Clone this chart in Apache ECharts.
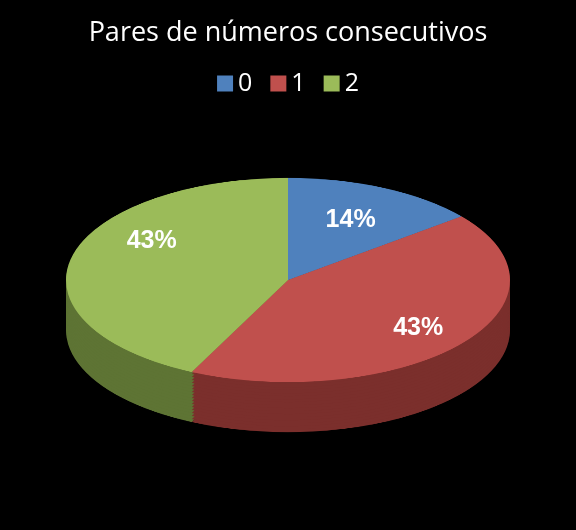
<!DOCTYPE html>
<html>
<head>
<meta charset="utf-8">
<script src="https://cdn.jsdelivr.net/npm/echarts@6/dist/echarts.min.js"></script>
<style>
	body { margin: 0; background: #000; }
	#wrap { position: relative; width: 576px; height: 530px; overflow: hidden; background: #000; }
	#pie { position: absolute; left: 0; top: 0; width: 576px; height: 1152px; transform: scaleY(0.46); transform-origin: 0 0; }
	#main { position: absolute; left: 0; top: 0; width: 576px; height: 530px; }
</style>
</head>
<body>
<div id="wrap">
	<div id="pie"></div>
	<div id="main"></div>
</div>
<script>
// data
var categories = ['0', '1', '2'];
var values = [1, 3, 3];
var topColors = ['#4f81bd', '#c0504d', '#9bbb59'];
var sideColors = ['#2f4d73', '#7b2f2c', '#5e7434'];

var S = 0.46, CX = 288, CY = 280, R = 222, DEPTH = 50;

function pieData(colors) {
	return categories.map(function(c, i) {
		return { name: c, value: values[i], itemStyle: { color: colors[i] } };
	});
}

// flattened pie with depth layers
var pieSeries = [];
for (var d = DEPTH; d > 0; d -= 3) {
	pieSeries.push({
		type: 'pie', radius: R, center: [CX, (CY + d) / S], startAngle: 90,
		silent: true, label: { show: false }, labelLine: { show: false },
		itemStyle: { borderWidth: 0 }, data: pieData(sideColors)
	});
}
pieSeries.push({
	type: 'pie', radius: R, center: [CX, CY / S], startAngle: 90,
	silent: true, label: { show: false }, labelLine: { show: false },
	itemStyle: { borderWidth: 0 }, data: pieData(topColors)
});
echarts.init(document.getElementById('pie')).setOption({ animation: false, series: pieSeries });

// labels from data angles
var total = values.reduce(function(a, b) { return a + b; }, 0);
var acc = 0, texts = [];
var fr = [0.65, 0.75, 0.63];
values.forEach(function(v, i) {
	var mid = (acc + v / 2) / total * 2 * Math.PI;
	acc += v;
	texts.push({
		type: 'text',
		x: CX + fr[i] * R * Math.sin(mid),
		y: CY - fr[i] * R * S * Math.cos(mid) - (i == 2 ? 25 : 0),
		style: {
			text: Math.round(v / total * 100) + '%', fill: '#fff',
			font: 'bold 25px "Liberation Sans", sans-serif', align: 'center', verticalAlign: 'middle'
		}
	});
});

echarts.init(document.getElementById('main')).setOption({
	animation: false,
	backgroundColor: 'transparent',
	title: {
		text: 'Pares de números consecutivos', left: 'center', top: 15,
		textStyle: { color: '#fff', fontSize: 27, fontWeight: 'normal', fontFamily: 'Open Sans' }
	},
	legend: {
		top: 66, left: 'center', itemWidth: 16, itemHeight: 16, itemGap: 18, icon: 'rect',
		textStyle: { color: '#fff', fontSize: 25, fontFamily: 'Open Sans' },
		data: categories
	},
	series: [{ type: 'pie', radius: 0, center: [-100, -100], label: { show: false }, data: pieData(topColors) }],
	graphic: texts
});
</script>
</body>
</html>
